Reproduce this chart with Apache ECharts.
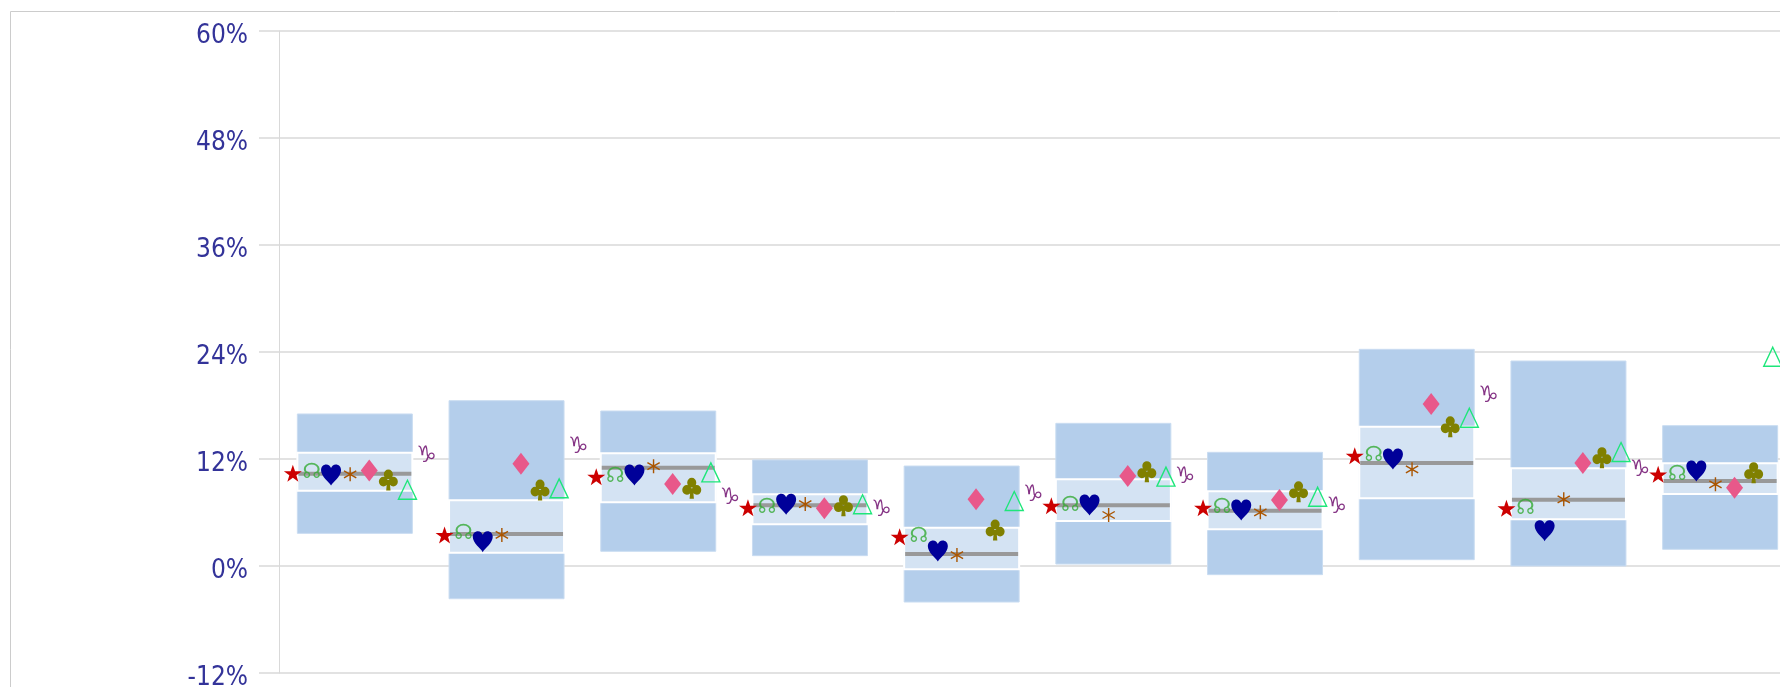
<!DOCTYPE html>
<html>
<head>
<meta charset="utf-8">
<script src="https://cdn.jsdelivr.net/npm/echarts@6/dist/echarts.min.js"></script>
<style>
  html, body { margin: 0; padding: 0; background: #ffffff; overflow: hidden; }
  #chart { width: 1780px; height: 687px; }
</style>
</head>
<body>
<div id="chart"></div>
<script>
// ---- data (percent) ----
const categories = ['G1','G2','G3','G4','G5','G6','G7','G8','G9','G10'];
const yTicks = { min: -12, max: 60, interval: 12 };

const boxLow    = [3.66, -3.67, 1.65, 1.16, -4.04, 0.22, -0.97, 0.71, 0.00, 1.87];
const boxQ1     = [8.45, 1.50, 7.14, 4.68, -0.37, 5.05, 4.12, 7.59, 5.23, 8.07];
const boxMedian = [10.35, 3.59, 11.03, 6.80, 1.35, 6.80, 6.20, 11.55, 7.44, 9.53];
const boxQ3     = [12.70, 7.37, 12.64, 8.04, 4.30, 9.72, 8.38, 15.62, 10.96, 11.51];
const boxHigh   = [17.05, 18.54, 17.38, 11.89, 11.21, 16.00, 12.75, 24.30, 22.99, 15.74];

const starVals      = [10.40, 3.48, 10.02, 6.54, 3.29, 6.77, 6.54, 12.37, 6.47, 10.28];
const omegaVals     = [10.45, 3.60, 10.00, 6.50, 3.30, 6.77, 6.50, 12.40, 6.47, 10.30];
const heartVals     = [10.20, 2.73, 10.20, 6.92, 1.68, 6.84, 6.28, 12.00, 3.96, 10.65];
const asteriskVals  = [10.28, 3.48, 11.20, 6.95, 1.23, 5.72, 6.02, 10.84, 7.48, 9.16];
const diamondVals   = [10.70, 11.47, 9.20, 6.47, 7.48, 10.09, 7.40, 18.17, 11.55, 8.78];
const clubVals      = [9.64, 8.52, 8.71, 6.77, 4.04, 10.58, 8.33, 15.62, 12.15, 10.47];
const triangleVals  = [8.55, 8.71, 10.50, 6.92, 7.29, 10.02, 7.77, 16.63, 12.78, 23.47];
const capricornVals = [12.30, 13.38, 7.59, 6.28, 7.96, 10.02, 6.65, 19.10, 10.77, null];

// ---- symbols ----
const STAR = 'path://M50,0 L61.8,35.1 L98.1,35.1 L68.8,56.7 L79.4,91 L50,70 L20.6,91 L31.2,56.7 L1.9,35.1 L38.2,35.1 Z';
const HEART = 'path://M50,100 C40,82 0,58 0,27 C0,10 12,0 26,0 C38,0 46,8 50,17 C54,8 62,0 74,0 C88,0 100,10 100,27 C100,58 60,82 50,100 Z';
const CLUB = 'path://M50,1 A23,23 0 1,1 49.9,1 Z M25,35 A23,23 0 1,1 24.9,35 Z M75,35 A23,23 0 1,1 74.9,35 Z M44,50 L56,50 L61,100 L39,100 Z';
const ASTER = 'path://M9,0 L11,0 L11,20 L9,20 Z M1.84,4.13 L19.16,14.13 L18.16,15.87 L0.84,5.87 Z M19.16,5.87 L1.84,15.87 L0.84,14.13 L18.16,4.13 Z';

const STEP = 19.1;
const off = i => -62 + STEP * i;

function markerSeries(name, data, idx, symbol, size, color, extra) {
  const s = {
    name: name,
    type: 'scatter',
    data: data,
    symbol: symbol,
    symbolSize: size,
    symbolOffset: [off(idx), 0],
    itemStyle: { color: color, opacity: 1 },
    z: 5,
    silent: true,
    clip: false
  };
  return Object.assign(s, extra || {});
}

function glyphSeries(name, data, idx, glyph, color, fontSize, dy) {
  return {
    name: name,
    type: 'scatter',
    data: data,
    symbol: 'circle',
    symbolSize: 2,
    symbolOffset: [off(idx), 0],
    itemStyle: { color: 'rgba(0,0,0,0)' },
    label: {
      show: true,
      position: 'inside',
      formatter: glyph,
      color: color,
      fontSize: fontSize,
      fontFamily: 'DejaVu Sans',
      offset: [0, dy || 0]
    },
    z: 6,
    silent: true,
    clip: false
  };
}

const boxData = categories.map((c, i) => [i, boxLow[i], boxQ1[i], boxMedian[i], boxQ3[i], boxHigh[i]]);

const chart = echarts.init(document.getElementById('chart'), null, { renderer: 'canvas' });

const option = {
  animation: false,
  backgroundColor: '#ffffff',
  graphic: [{
    type: 'rect',
    shape: { x: 10.5, y: 11.5, width: 1800, height: 700 },
    style: { fill: 'none', stroke: '#cccccc', lineWidth: 1 },
    z: -10, silent: true
  }],
  grid: { left: 279, top: 31, bottom: 14, width: 1517, containLabel: false, outerBoundsMode: 'none' },
  xAxis: {
    type: 'category',
    data: categories,
    boundaryGap: true,
    axisLine: { show: false },
    axisTick: { show: false },
    axisLabel: { show: false },
    splitLine: { show: false }
  },
  yAxis: {
    type: 'value',
    min: yTicks.min, max: yTicks.max, interval: yTicks.interval,
    axisLine: { show: true, lineStyle: { color: '#d9d9d9', width: 1 } },
    axisTick: { show: true, length: 20, lineStyle: { color: '#d9d9d9', width: 1.5 } },
    splitLine: { show: true, lineStyle: { color: '#d9d9d9', width: 1.5 } },
    axisLabel: {
      formatter: '{value}%',
      color: '#333399',
      fontSize: 26,
      fontFamily: "'DejaVu Sans Condensed', 'DejaVu Sans', sans-serif",
      margin: 31,
      verticalAlign: 'top',
      lineHeight: 10
    }
  },
  series: [
    {
      name: 'range',
      type: 'custom',
      data: boxData,
      encode: { x: 0, y: [1, 5] },
      z: 2,
      silent: true,
      renderItem: function (params, api) {
        const xi = api.value(0);
        const cx = api.coord([xi, 0])[0];
        const bw = api.size([1, 0])[0] * 0.758;
        const yLow = api.coord([xi, api.value(1)])[1];
        const yQ1 = api.coord([xi, api.value(2)])[1];
        const yMed = api.coord([xi, api.value(3)])[1];
        const yQ3 = api.coord([xi, api.value(4)])[1];
        const yHigh = api.coord([xi, api.value(5)])[1];
        const x0 = cx - bw / 2;
        return {
          type: 'group',
          children: [
            { type: 'rect', shape: { x: x0, y: yHigh, width: bw, height: yLow - yHigh },
              style: { fill: '#b4ceeb', stroke: '#c9dcf1', lineWidth: 1 } },
            { type: 'rect', shape: { x: x0, y: yQ3, width: bw, height: yQ1 - yQ3 },
              style: { fill: '#d4e3f3', stroke: '#ffffff', lineWidth: 2 } },
            { type: 'line', shape: { x1: x0 + 1, y1: yMed, x2: x0 + bw - 1, y2: yMed },
              style: { stroke: '#999999', lineWidth: 4 } }
          ]
        };
      }
    },
    markerSeries('star', starVals, 0, STAR, [18, 17], '#cc0000'),
    glyphSeries('omega', omegaVals, 1, '☊', '#33aa33', 21, 0),
    markerSeries('heart', heartVals, 2, HEART, [20, 21], '#000099'),
    markerSeries('asterisk', asteriskVals, 3, ASTER, [13, 14], '#aa5500'),
    markerSeries('diamond', diamondVals, 4, 'diamond', [17, 22], '#e8588a'),
    markerSeries('club', clubVals, 5, CLUB, [19, 21], '#808000'),
    markerSeries('triangle', triangleVals, 6, 'triangle', [18, 19], 'rgba(255,255,255,0)',
      { itemStyle: { color: 'rgba(255,255,255,0)', borderColor: '#1ee67a', borderWidth: 1.4, opacity: 1 } }),
    glyphSeries('capricorn', capricornVals, 7, '♑', '#660066', 23, 0)
  ]
};

chart.setOption(option);
</script>
</body>
</html>
